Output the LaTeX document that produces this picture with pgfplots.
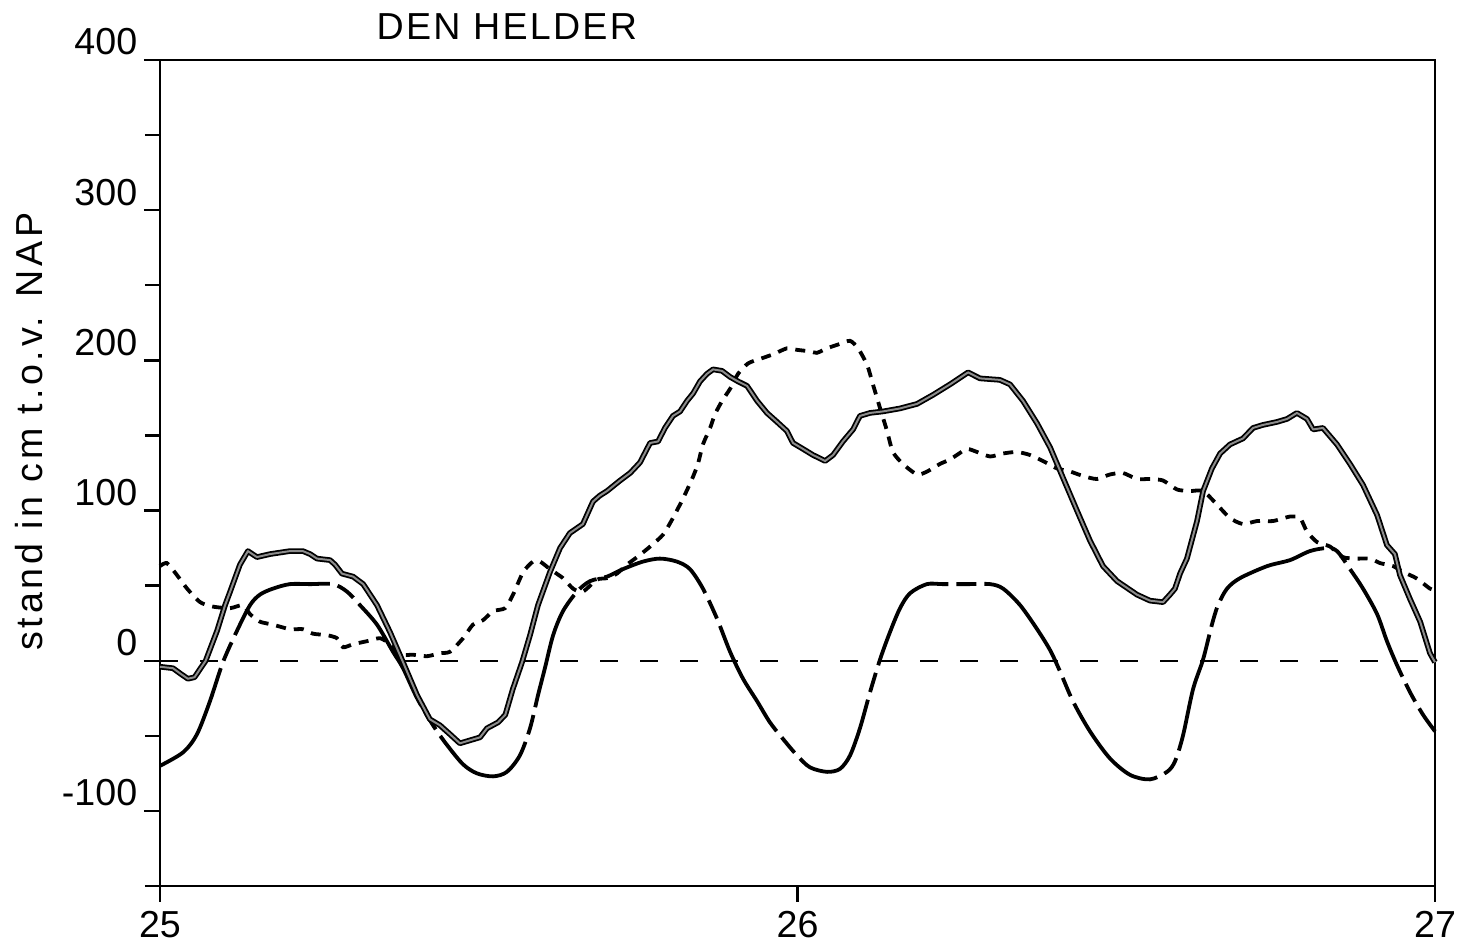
\documentclass[border=0pt]{standalone}
\usepackage{fontspec}
\setmainfont{Liberation Sans}
\newfontfamily\titlefont{Liberation Sans}[LetterSpace=6]
\newfontfamily\labelfont{Liberation Sans}[LetterSpace=10]
\usepackage{pgfplots}
\pgfplotsset{compat=1.18}
\newcommand\pf{\fontsize{9.4pt}{11pt}\selectfont}
\begin{document}
\begin{tikzpicture}
\begin{axis}[
  scale only axis,
  width=318.75pt, height=206.5pt,
  xmin=0, xmax=48, ymin=-150, ymax=400,
  xtick={0,24,48}, xticklabels={25,26,27},
  ytick={-100,0,100,200,300,400},
  yticklabels={-100,0,100,200,300,400},
  minor ytick={-150,-50,50,150,250,350},
  xtick pos=bottom, ytick pos=left,
  tick align=outside,
  major tick length=4pt, minor tick length=3.75pt,
  every tick/.style={black, line width=0.6pt},
  axis line style={line width=0.7pt},
  tick label style={font=\pf},
  yticklabel style={anchor=south east, inner sep=1pt, xshift=-0.5pt},
  xticklabel style={inner sep=2pt},
  clip=false,
  ylabel={stand in cm t.o.v. NAP},
  every axis y label/.style={at={(rel axis cs:-0.1027,0.55)}, rotate=90, anchor=center, font=\labelfont\pf},
]
% zero line
\addplot[black, line width=0.55pt, dash pattern=on 4.5pt off 5.5pt] coordinates {(0,0) (48,0)};
% short dashed series
\addplot[black, line width=0.95pt, dash pattern=on 2.5pt off 2pt, smooth, tension=0.4] coordinates {
(0.00,63) (0.26,65) (0.64,57) (1.02,48) (1.51,39) (2.00,36) (2.64,35) (3.12,37) (3.39,31) (3.76,26)
(4.25,24) (4.89,21) (5.38,21) (5.76,18) (6.29,17) (6.66,15) (6.89,9) (7.27,11) (7.79,13) (8.28,15)
(8.66,11) (9.04,4) (9.52,4) (10.05,3) (10.54,5) (10.92,6) (11.41,15) (11.78,24) (12.16,27) (12.54,33)
(12.99,35) (13.29,44) (13.67,59) (14.04,66) (14.31,66) (14.68,61) (15.17,55) (15.55,48) (15.92,46) (16.45,54)
(16.83,55) (17.20,58) (17.58,64) (17.96,69) (18.45,76) (18.94,84) (19.31,95) (19.69,108) (20.03,121) (20.25,131)
(20.44,144) (20.71,155) (20.89,164) (21.16,173) (21.46,181) (21.76,191) (22.14,198) (22.59,201) (23.08,204) (23.60,208)
(23.98,207) (24.47,206) (24.73,205) (25.11,208) (25.60,211) (25.98,213) (26.28,208) (26.62,197) (26.84,184) (27.11,168)
(27.37,153) (27.59,139) (27.97,131) (28.50,124) (28.88,126) (29.36,131) (29.74,134) (30.00,137) (30.38,141) (30.76,139)
(31.25,136) (31.74,138) (32.26,139) (32.75,137) (33.24,133) (33.77,128) (34.26,126) (34.75,123) (35.27,121) (35.76,124)
(36.25,125) (36.78,121) (37.27,121) (37.76,120) (38.29,114) (38.78,113) (39.27,113) (39.79,104) (40.28,95) (40.77,91)
(41.30,93) (41.90,93) (42.54,96) (42.92,95) (43.18,86) (43.56,79) (44.05,76) (44.53,69) (45.06,68) (45.55,68)
(45.93,65) (46.42,63) (46.81,59) (47.29,55) (47.81,48) (48.00,47)};
% long dashed series (tide)
\addplot[black, line width=0.95pt, dash pattern=on 30pt off 2pt on 5pt off 2pt, smooth, tension=0.5] coordinates {
(0.00,-70) (0.87,-61) (1.39,-49) (1.88,-27) (2.37,-1) (2.90,20) (3.39,37) (3.76,44) (4.25,48) (4.89,51)
(5.65,51) (6.51,51) (7.04,46) (7.53,37) (8.17,24) (8.77,6) (9.15,-5) (9.68,-25) (10.28,-43) (10.80,-56)
(11.41,-69) (11.93,-75) (12.54,-77) (13.06,-74) (13.55,-63) (13.93,-45) (14.23,-23) (14.49,-5) (14.80,17) (15.17,33)
(15.70,46) (16.19,53) (16.83,56) (17.43,61) (18.18,66) (18.82,68) (19.46,66) (19.95,61) (20.44,48) (20.97,28)
(21.46,6) (21.95,-12) (22.48,-27) (22.96,-41) (23.45,-52) (23.98,-63) (24.47,-71) (25.11,-74) (25.60,-72) (25.98,-63)
(26.35,-45) (26.73,-21) (27.11,1) (27.48,19) (27.86,35) (28.24,45) (28.87,51) (29.48,51) (30.38,51) (31.25,51)
(31.74,48) (32.38,37) (33.02,21) (33.51,7) (33.88,-7) (34.37,-27) (35.01,-47) (35.76,-65) (36.52,-76) (37.27,-79)
(37.91,-74) (38.21,-67) (38.51,-50) (38.89,-19) (39.27,1) (39.60,24) (39.83,37) (40.17,48) (40.66,55) (41.68,63)
(42.54,67) (43.29,73) (43.93,75) (44.31,73) (44.80,61) (45.29,48) (45.82,31) (46.19,13) (46.57,-3) (47.06,-21)
(47.55,-36) (48.00,-47)};
% observed water level (thick)
\addplot[draw=black, line width=0.45pt, double=black!45, double distance=0.5pt, line join=round] coordinates {
(0.00,-4) (0.49,-5) (0.80,-9) (1.05,-12) (1.30,-11) (1.72,0) (2.15,20) (2.45,37) (2.64,46) (3.01,64)
(3.31,73) (3.65,69) (4.14,71) (4.89,73) (5.38,73) (5.65,71) (5.91,68) (6.40,67) (6.59,64) (6.85,58)
(7.27,56) (7.65,51) (8.17,37) (8.66,19) (9.15,-1) (9.68,-23) (10.16,-39) (10.54,-43) (10.92,-49) (11.29,-55)
(11.67,-53) (12.05,-51) (12.31,-45) (12.73,-41) (13.00,-36) (13.28,-19) (13.63,-1) (13.93,17) (14.23,37) (14.68,59)
(15.06,75) (15.43,85) (15.92,91) (16.30,106) (16.56,110) (16.83,113) (17.32,120) (17.70,125) (18.07,132) (18.45,145)
(18.75,146) (19.01,155) (19.31,163) (19.58,166) (19.84,173) (20.07,178) (20.33,186) (20.59,191) (20.82,194) (21.16,193)
(21.46,189) (21.76,186) (22.10,183) (22.48,173) (22.85,165) (23.23,159) (23.60,153) (23.83,145) (24.21,141) (24.58,137)
(25.04,133) (25.34,137) (25.71,146) (26.09,154) (26.35,163) (26.73,165) (27.22,166) (27.86,168) (28.50,171) (29.10,177)
(29.74,184) (30.42,192) (30.87,188) (31.62,187) (32.00,184) (32.49,173) (33.02,158) (33.51,142) (33.99,122) (34.52,100)
(35.01,80) (35.50,63) (36.03,53) (36.78,44) (37.27,40) (37.76,39) (38.02,44) (38.21,48) (38.40,58) (38.66,68)
(39.04,93) (39.27,113) (39.60,128) (39.91,138) (40.28,144) (40.77,148) (41.15,155) (41.52,157) (42.05,159) (42.43,161)
(42.80,165) (43.18,161) (43.41,154) (43.78,155) (44.31,144) (44.80,131) (45.29,117) (45.82,97) (46.19,77) (46.49,71)
(46.68,57) (47.06,41) (47.44,26) (47.81,5) (48.00,-1)};
\node[font=\titlefont\fontsize{9.4pt}{11pt}\selectfont] at (rel axis cs:0.272,1.040) {DEN HELDER};
\end{axis}
\pgfresetboundingbox
\path[use as bounding box] (-40pt,-15.75pt) rectangle (328.25pt,221.5pt);
\end{tikzpicture}
\end{document}
